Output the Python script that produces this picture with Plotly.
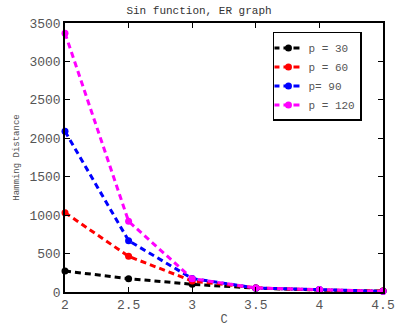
import plotly.graph_objects as go

C = [2, 2.5, 3, 3.5, 4, 4.5]
p30 = [273, 174, 100, 50, 25, 12]
p60 = [1032, 464, 143, 55, 25, 12]
p90 = [2090, 668, 175, 52, 31, 9]
p120 = [3368, 919, 174, 52, 31, 9]
names = ["p = 30", "p = 60", "p= 90", "p = 120"]
colors = ["#000000", "#ff0000", "#0000ff", "#ff00ff"]
xticks = [2, 2.5, 3, 3.5, 4, 4.5]
yticks = [0, 500, 1000, 1500, 2000, 2500, 3000, 3500]

font = "Liberation Mono, Courier New, monospace"
fig = go.Figure()
for ys, nm, col in zip([p30, p60, p90, p120], names, colors):
    fig.add_trace(go.Scatter(
        x=C, y=ys, name=nm, mode="lines+markers",
        line=dict(color=col, width=3, dash="6px,4px"),
        marker=dict(color=col, size=7, symbol="circle"),
        cliponaxis=False,
    ))

axis_common = dict(
    showline=True, linecolor="black", linewidth=1.5, mirror="ticks",
    ticks="inside", ticklen=5, tickcolor="black", showgrid=False, zeroline=False,
    tickfont=dict(family=font, size=13, color="#555555"), automargin=False,
)
fig.update_layout(
    width=398, height=330,
    margin=dict(l=65, r=15, t=23, b=38),
    paper_bgcolor="white", plot_bgcolor="white",
    title=dict(text="Sin function, ER graph", x=0.5, xanchor="center", y=0.97, yanchor="middle",
               font=dict(family=font, size=11, color="#333333")),
    xaxis=dict(range=[2, 4.5], tickvals=xticks, ticktext=[str(v) for v in xticks],
               title=dict(text="C", font=dict(family=font, size=12, color="#555555"), standoff=2),
               **axis_common),
    yaxis=dict(range=[0, 3500], tickvals=yticks,
               title=dict(text="Hamming Distance", font=dict(family=font, size=9, color="#555555"), standoff=8),
               **axis_common),
    legend=dict(x=0.654, y=0.967, xanchor="left", yanchor="top",
                bordercolor="black", borderwidth=1.5, bgcolor="white",
                font=dict(family=font, size=11, color="#555555"),
                tracegroupgap=0, itemwidth=30, indentation=-6),
    showlegend=True,
)
fig.write_html("out.html")
